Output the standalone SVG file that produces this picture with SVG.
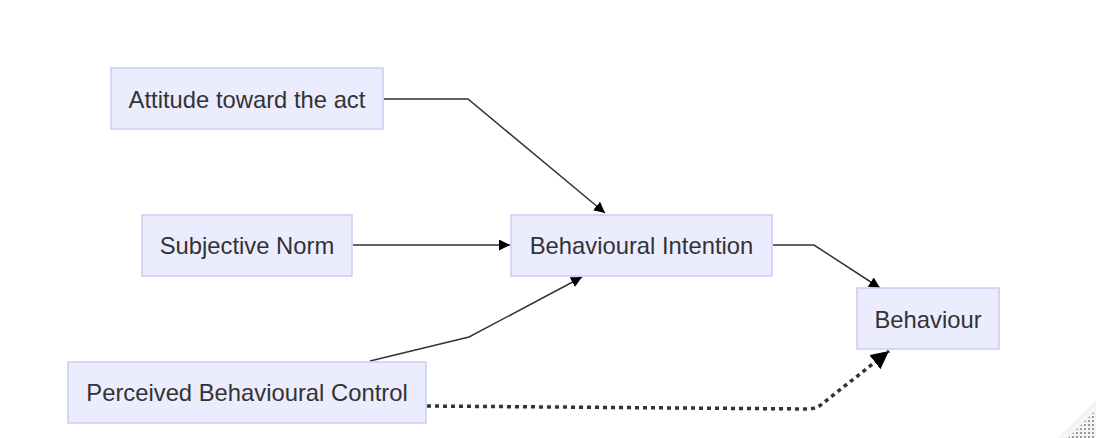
<svg xmlns="http://www.w3.org/2000/svg" width="1096" height="438" viewBox="0 0 1096 438">
  <style>
    .node rect { fill: #ECECFF; stroke: #CCCCF4; stroke-width: 1.5; }
    .node text { font-family: "Liberation Sans", Arial, Helvetica, sans-serif; font-size: 23.8px; fill: #333333; text-anchor: middle; dominant-baseline: central; }
    .edge { fill: none; stroke: #333333; stroke-width: 1.5; }
    .dotted { fill: none; stroke: #333333; stroke-width: 3.5; stroke-dasharray: 4 4; }
  </style>
  <defs>
    <marker id="arrow" viewBox="0 0 10 10" refX="10" refY="5" markerUnits="userSpaceOnUse" markerWidth="11" markerHeight="11" orient="auto">
      <path d="M0,0 L10,5 L0,10 z" fill="#000"/>
    </marker>
    <marker id="arrowBig" viewBox="0 0 10 10" refX="10" refY="5" markerUnits="userSpaceOnUse" markerWidth="18" markerHeight="18" orient="auto">
      <path d="M0,0 L10,5 L0,10 z" fill="#000"/>
    </marker>
    <pattern id="grip" width="4" height="4" patternUnits="userSpaceOnUse">
      <rect x="0" y="0" width="2" height="2" fill="#9a9a9a"/>
    </pattern>
  </defs>
  <rect width="1096" height="438" fill="#ffffff"/>

  <g id="connectors">
    <polyline class="edge" points="384,99 468,99 605,213" marker-end="url(#arrow)"/>
    <polyline class="edge" points="353,245 510,245" marker-end="url(#arrow)"/>
    <polyline class="edge" points="370,361 469,337 582,277" marker-end="url(#arrow)"/>
    <polyline class="edge" points="773,245 814,245 880,288" marker-end="url(#arrow)"/>
    <path class="dotted" d="M427,406 L808,409 Q816,409 822,404 L889,351" marker-end="url(#arrowBig)"/>
  </g>

  <g id="attitude" class="node">
    <rect x="111" y="68" width="272" height="61"/>
    <text x="247" y="99">Attitude toward the act</text>
  </g>
  <g id="subjective-norm" class="node">
    <rect x="142" y="215" width="210" height="61"/>
    <text x="247" y="245.5">Subjective Norm</text>
  </g>
  <g id="pbc" class="node">
    <rect x="68" y="362" width="358" height="61"/>
    <text x="247" y="392.5">Perceived Behavioural Control</text>
  </g>
  <g id="intention" class="node">
    <rect x="511" y="215" width="261" height="61"/>
    <text x="641.5" y="245.5">Behavioural Intention</text>
  </g>
  <g id="behaviour" class="node">
    <rect x="857" y="288" width="142" height="61"/>
    <text x="928" y="319">Behaviour</text>
  </g>

  <polygon points="1096,400 1096,438 1058,438" fill="#f4f4f4"/>
  <polygon points="1096,410 1096,438 1068,438" fill="url(#grip)"/>
</svg>
